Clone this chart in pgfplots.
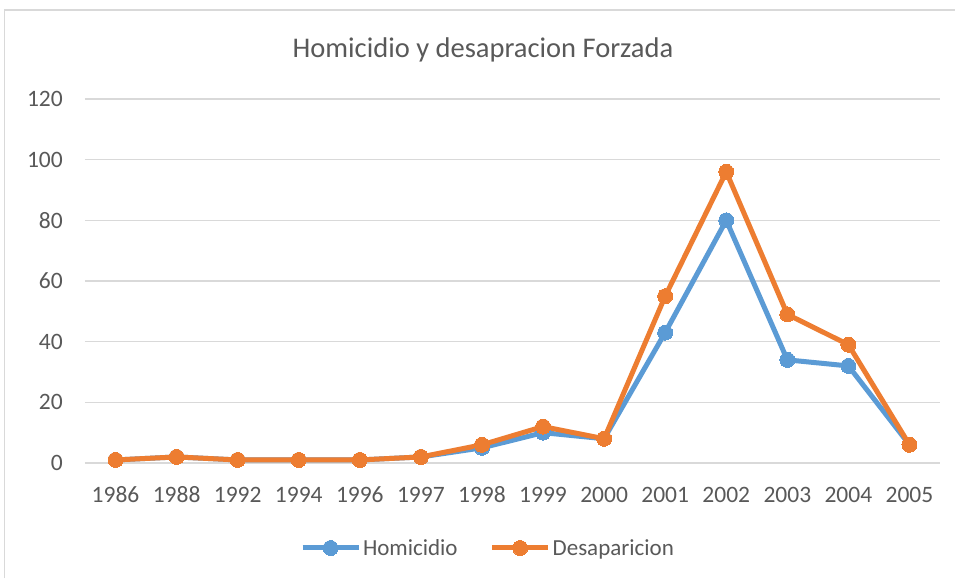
\documentclass[border=0pt]{standalone}
\usepackage{fontspec}
\setmainfont{Carlito}
\usepackage{pgfplots}
\pgfplotsset{compat=1.18}
\definecolor{hblue}{HTML}{5B9BD5}
\definecolor{dorange}{HTML}{ED7D31}
\definecolor{gridgray}{HTML}{D9D9D9}
\definecolor{txtgray}{HTML}{595959}
\begin{document}
\begin{tikzpicture}[x=1pt,y=1pt]
\useasboundingbox (0,0) rectangle (955,578);
\fill[white] (0,0) rectangle (955,578);
\draw[gridgray, line width=1.3pt] (4.5,0) -- (4.5,568) -- (955,568);
\node[anchor=base, text=txtgray, font=\fontsize{28.5}{34}\selectfont, inner sep=0pt] at (483,520) {Homicidio y desapracion Forzada};
\begin{axis}[
  at={(85pt,115pt)}, anchor=south west,
  scale only axis, width=855pt, height=364pt,
  xmin=-0.5, xmax=13.5, ymin=0, ymax=120,
  xtick={0,...,13},
  xticklabels={1986,1988,1992,1994,1996,1997,1998,1999,2000,2001,2002,2003,2004,2005},
  ytick={0,20,...,120},
  /pgf/number format/assume math mode=true,
  axis line style={draw=none},
  major tick length=0pt,
  ymajorgrids, grid style={gridgray, line width=1.3pt},
  tick label style={text=txtgray, font=\fontsize{23.5}{27}\selectfont},
  xticklabel style={inner sep=0pt, anchor=base, yshift=-39pt},
  yticklabel style={inner sep=0pt, anchor=east, xshift=-22pt},
  legend columns=2,
  legend style={at={(0.4713,-0.2335)}, anchor=center, draw=none, fill=none,
    font=\fontsize{23}{27}\selectfont, text=txtgray,
    /tikz/every even column/.append style={column sep=30pt}},
  legend image code/.code={
    \draw[mark repeat=2,mark phase=2,#1] plot coordinates {(0pt,0pt) (28pt,0pt) (56pt,0pt)};
  },
]
\addplot[hblue, line width=5pt, mark=*, mark size=7.5pt, mark options={line width=0pt}] coordinates {
(0,1) (1,2) (2,1) (3,1) (4,1) (5,2) (6,5) (7,10) (8,8) (9,43) (10,80) (11,34) (12,32) (13,6)};
\addlegendentry{Homicidio}
\addplot[dorange, line width=5pt, mark=*, mark size=7.5pt, mark options={line width=0pt}] coordinates {
(0,1) (1,2) (2,1) (3,1) (4,1) (5,2) (6,6) (7,12) (8,8) (9,55) (10,96) (11,49) (12,39) (13,6)};
\addlegendentry{Desaparicion}
\end{axis}
\end{tikzpicture}
\end{document}
